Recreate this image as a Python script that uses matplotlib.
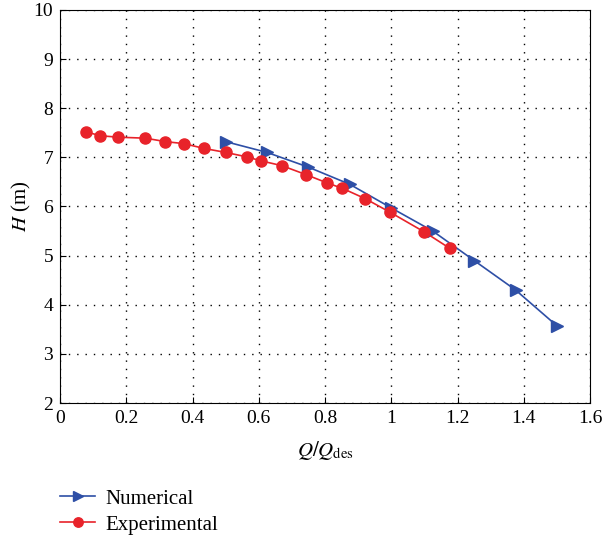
import matplotlib
matplotlib.use('Agg')
import matplotlib.pyplot as plt

plt.rcParams['font.family'] = 'Liberation Serif'
plt.rcParams['mathtext.fontset'] = 'stix'

# Numerical results
q_num = [0.5, 0.625, 0.75, 0.875, 1.0, 1.125, 1.25, 1.375, 1.5]
h_num = [7.32, 7.1, 6.8, 6.45, 5.97, 5.5, 4.9, 4.3, 3.57]

# Experimental results
q_exp = [0.079, 0.121, 0.176, 0.258, 0.318, 0.373, 0.436, 0.5, 0.564,
         0.606, 0.67, 0.742, 0.806, 0.852, 0.921, 0.997, 1.1, 1.176]
h_exp = [7.52, 7.44, 7.41, 7.39, 7.32, 7.28, 7.18, 7.1, 7.01,
         6.93, 6.83, 6.65, 6.48, 6.37, 6.16, 5.88, 5.48, 5.15]

azul = '#2E4FA6'
rojo = '#E8232A'

fig = plt.figure(figsize=(6.04, 5.37), dpi=100)
ax = fig.add_axes([0.0993, 0.2495, 0.8777, 0.732])

ax.plot(q_num, h_num, color=azul, marker='>', markersize=9, linewidth=1.2,
        label='Numerical')
ax.plot(q_exp, h_exp, color=rojo, marker='o', markersize=8, linewidth=1.2,
        label='Experimental')

ax.set_xlim(0, 1.6)
ax.set_ylim(2, 10)
ax.set_xticks([0, 0.2, 0.4, 0.6, 0.8, 1.0, 1.2, 1.4, 1.6])
ax.set_xticklabels(['0', '0.2', '0.4', '0.6', '0.8', '1', '1.2', '1.4', '1.6'])
ax.set_yticks(range(2, 11))
ax.tick_params(direction='in', length=4, labelsize=14, pad=5)
ax.grid(True, linestyle=(0, (1, 5)), color='black', linewidth=1)

ax.set_xlabel(r'$Q/Q_{\mathrm{des}}$', fontsize=15, labelpad=9)
ax.set_ylabel(r'$H$ (m)', fontsize=15)
ax.yaxis.set_label_coords(-0.05, 0.5)

fig.legend(loc='upper left', bbox_to_anchor=(0.0993, 0.089), frameon=False,
           fontsize=15, handlelength=1.7, handletextpad=0.5, labelspacing=0.3,
           borderpad=0, borderaxespad=0, markerscale=0.85)

fig.savefig('out.png', dpi=100)
